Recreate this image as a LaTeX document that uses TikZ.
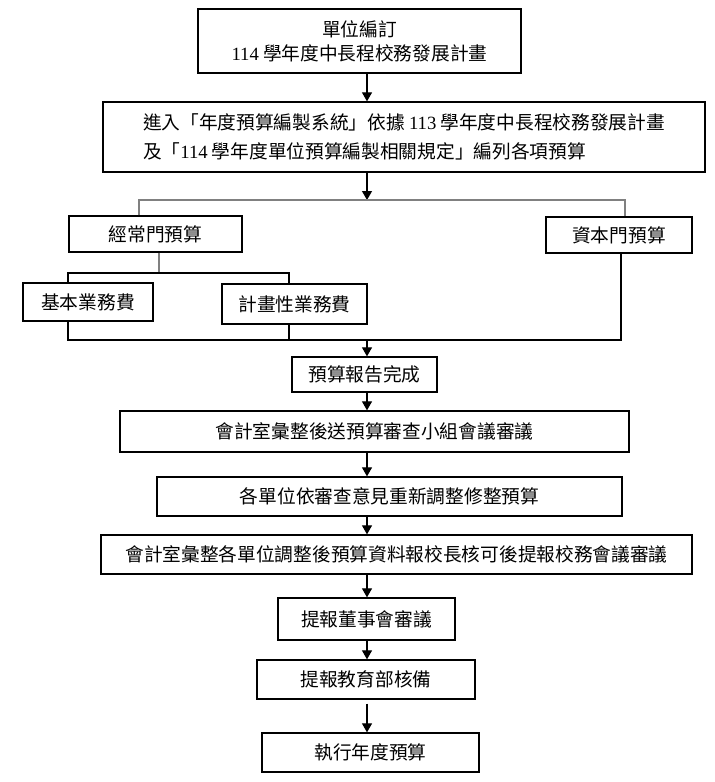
\documentclass[tikz,border=0pt]{standalone}
\usepackage{fontspec}
\setmainfont{Noto Sans CJK TC}
\newfontfamily\latinnum{Liberation Serif}
\usetikzlibrary{arrows.meta}
\newcommand{\yr}[1]{{\latinnum #1}}

\tikzset{
  box/.style={draw, line width=1.3pt, inner sep=0pt, align=center,
    font=\fontsize{18.7}{29}\selectfont},
  flow/.style={line width=1.2pt, -{Triangle[length=9pt,width=10pt]}},
  branch/.style={line width=1.2pt, draw=gray},
  link/.style={line width=1.2pt}
}

\begin{document}
\begin{tikzpicture}[x=1pt, y=-1pt]
        \useasboundingbox (0,0) rectangle (715,782);
        \coordinate (axis) at (367,0);

        % planning and budgeting
        \node[box, minimum width=323pt, minimum height=64pt] (unit) at (359.5,41)
            {單位編訂\\[-5pt]\yr{114} 學年度中長程校務發展計畫};
        \node[box, align=left, minimum width=602pt, minimum height=70pt] (system) at (404,137)
            {進入「年度預算編製系統」依據 \yr{113} 學年度中長程校務發展計畫\\及「\yr{114} 學年度單位預算編製相關規定」編列各項預算};

        % kinds of budget
        \node[box, minimum width=173pt, minimum height=36pt] (ordinary) at (155.5,234) {經常門預算};
        \node[box, minimum width=146pt, minimum height=36pt] (capital) at (619,235) {資本門預算};
        \node[box, minimum width=130pt, minimum height=38pt] (basic) at (88,302) {基本業務費};
        \node[box, minimum width=145pt, minimum height=40pt] (plan) at (294.5,304) {計畫性業務費};

        % review steps
        \node[box, minimum width=145pt, minimum height=35pt] (report) at (364.5,374.5) {預算報告完成};
        \node[box, minimum width=509pt, minimum height=41pt] (review) at (374.5,431.5) {會計室彙整後送預算審查小組會議審議};
        \node[box, minimum width=465pt, minimum height=39pt] (adjust) at (389.5,496.5) {各單位依審查意見重新調整修整預算};
        \node[box, minimum width=591pt, minimum height=39pt] (council) at (396.5,554.5) {會計室彙整各單位調整後預算資料報校長核可後提報校務會議審議};
        \node[box, minimum width=177pt, minimum height=42pt] (board) at (366.5,619) {提報董事會審議};
        \node[box, minimum width=218pt, minimum height=39pt] (moe) at (366,679.5) {提報教育部核備};
        \node[box, minimum width=217pt, minimum height=39pt] (exec) at (370.5,752.5) {執行年度預算};

        % split into the two kinds
        \coordinate (split) at (367,200);
        \coordinate (lt) at (139,200);
        \coordinate (rt) at (625,200);
        \draw[flow] (unit.south -| axis) -- (system.north -| axis);
        \draw[flow] (system.south -| axis) -- (split);
        \draw[branch] (ordinary.north -| lt) |- (rt) -- (capital.north -| rt);

        \coordinate (stem) at (159,273);
        \coordinate (bl) at (68,273);
        \coordinate (br) at (289,273);
        \draw[branch] (ordinary.south -| stem) -- (stem);
        \draw[link] (basic.north -| bl) |- (br) -- (plan.north -| br);

        % join again
        \coordinate (jl) at (68,340);
        \coordinate (jr) at (621,340);
        \coordinate (merge) at (367,340);
        \draw[link] (basic.south -| jl) -- (jl) -- (jr) -- (capital.south -| jr);
        \draw[link] (plan.south -| br) -- (br |- jl);
        \draw[flow] (merge) -- (report.north -| axis);

        \foreach \a/\b in {report/review, review/adjust, adjust/council, council/board, board/moe} {
            \draw[flow] (\a.south -| axis) -- (\b.north -| axis);
        }
        \draw[flow, shorten <=4pt] (moe.south -| axis) -- (exec.north -| axis);
\end{tikzpicture}
\end{document}
